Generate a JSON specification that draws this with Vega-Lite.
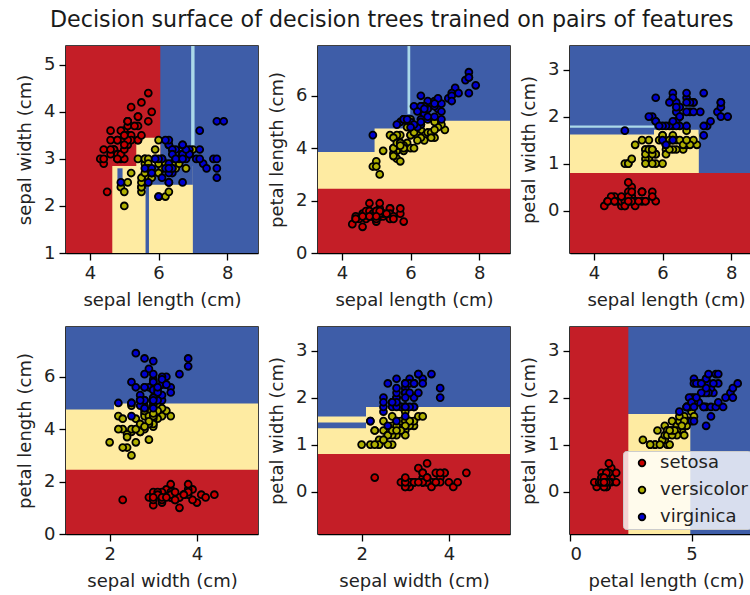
{
  "$schema": "https://vega.github.io/schema/vega-lite/v6.json",
  "padding": {"left": 15, "top": 9, "right": 0, "bottom": 0},
  "title": {"text": "Decision surface of decision trees trained on pairs of features", "anchor": "start", "frame": "group", "dx": -16, "offset": 14, "fontSize": 22.2, "fontWeight": "normal", "font": "DejaVu Sans", "color": "#1a1a1a"},
  "bounds": "flush",
  "columns": 3,
  "spacing": {"row": 74, "column": 60},
  "datasets": {
    "surf": [
      {"p":1,"x1":3.3,"x2":8.9,"y1":1,"y2":5.4,"c":"2"},
      {"p":1,"x1":3.3,"x2":6.05,"y1":1,"y2":5.4,"c":"0"},
      {"p":1,"x1":4.65,"x2":7.0,"y1":1,"y2":2.85,"c":"1"},
      {"p":1,"x1":5.35,"x2":6.05,"y1":2.8,"y2":3.45,"c":"1"},
      {"p":1,"x1":5.72,"x2":7.0,"y1":2.45,"y2":2.85,"c":"2"},
      {"p":1,"x1":5.62,"x2":5.72,"y1":1,"y2":2.85,"c":"2"},
      {"p":1,"x1":4.8,"x2":4.95,"y1":2.45,"y2":2.8,"c":"2"},
      {"p":1,"x1":6.95,"x2":7.05,"y1":3.25,"y2":5.4,"c":"m"},
      {"p":2,"x1":3.3,"x2":8.9,"y1":0,"y2":7.9,"c":"2"},
      {"p":2,"x1":3.3,"x2":8.9,"y1":0,"y2":3.85,"c":"1"},
      {"p":2,"x1":4.95,"x2":8.9,"y1":0,"y2":4.75,"c":"1"},
      {"p":2,"x1":5.95,"x2":8.9,"y1":0,"y2":5.05,"c":"1"},
      {"p":2,"x1":3.3,"x2":8.9,"y1":0,"y2":2.45,"c":"0"},
      {"p":2,"x1":5.91,"x2":5.99,"y1":5.3,"y2":7.9,"c":"m"},
      {"p":3,"x1":3.3,"x2":8.9,"y1":-0.9,"y2":3.5,"c":"2"},
      {"p":3,"x1":3.3,"x2":7.05,"y1":-0.9,"y2":1.62,"c":"1"},
      {"p":3,"x1":5.75,"x2":7.05,"y1":-0.9,"y2":1.72,"c":"1"},
      {"p":3,"x1":3.3,"x2":8.9,"y1":-0.9,"y2":0.8,"c":"0"},
      {"p":3,"x1":3.3,"x2":5.75,"y1":1.76,"y2":1.81,"c":"m"},
      {"p":4,"x1":1,"x2":5.4,"y1":0,"y2":7.9,"c":"2"},
      {"p":4,"x1":1,"x2":5.4,"y1":0,"y2":4.75,"c":"1"},
      {"p":4,"x1":2.1,"x2":5.4,"y1":0,"y2":4.98,"c":"1"},
      {"p":4,"x1":1,"x2":5.4,"y1":0,"y2":2.45,"c":"0"},
      {"p":5,"x1":1,"x2":5.4,"y1":-0.9,"y2":3.5,"c":"2"},
      {"p":5,"x1":1,"x2":5.4,"y1":-0.9,"y2":1.35,"c":"1"},
      {"p":5,"x1":2.1,"x2":5.4,"y1":-0.9,"y2":1.8,"c":"1"},
      {"p":5,"x1":1,"x2":5.4,"y1":-0.9,"y2":0.8,"c":"0"},
      {"p":5,"x1":1,"x2":2.1,"y1":1.47,"y2":1.6,"c":"1"},
      {"p":6,"x1":0,"x2":7.9,"y1":-0.9,"y2":3.5,"c":"2"},
      {"p":6,"x1":2.3,"x2":4.95,"y1":-0.9,"y2":1.65,"c":"1"},
      {"p":6,"x1":0,"x2":2.4,"y1":-0.9,"y2":3.5,"c":"0"}
    ],
    "iris": [
      {"sl":5.1,"sw":3.5,"pl":1.4,"pw":0.2,"species":"setosa"},
      {"sl":4.9,"sw":3.0,"pl":1.4,"pw":0.2,"species":"setosa"},
      {"sl":4.7,"sw":3.2,"pl":1.3,"pw":0.2,"species":"setosa"},
      {"sl":4.6,"sw":3.1,"pl":1.5,"pw":0.2,"species":"setosa"},
      {"sl":5.0,"sw":3.6,"pl":1.4,"pw":0.2,"species":"setosa"},
      {"sl":5.4,"sw":3.9,"pl":1.7,"pw":0.4,"species":"setosa"},
      {"sl":4.6,"sw":3.4,"pl":1.4,"pw":0.3,"species":"setosa"},
      {"sl":5.0,"sw":3.4,"pl":1.5,"pw":0.2,"species":"setosa"},
      {"sl":4.4,"sw":2.9,"pl":1.4,"pw":0.2,"species":"setosa"},
      {"sl":4.9,"sw":3.1,"pl":1.5,"pw":0.1,"species":"setosa"},
      {"sl":5.4,"sw":3.7,"pl":1.5,"pw":0.2,"species":"setosa"},
      {"sl":4.8,"sw":3.4,"pl":1.6,"pw":0.2,"species":"setosa"},
      {"sl":4.8,"sw":3.0,"pl":1.4,"pw":0.1,"species":"setosa"},
      {"sl":4.3,"sw":3.0,"pl":1.1,"pw":0.1,"species":"setosa"},
      {"sl":5.8,"sw":4.0,"pl":1.2,"pw":0.2,"species":"setosa"},
      {"sl":5.7,"sw":4.4,"pl":1.5,"pw":0.4,"species":"setosa"},
      {"sl":5.4,"sw":3.9,"pl":1.3,"pw":0.4,"species":"setosa"},
      {"sl":5.1,"sw":3.5,"pl":1.4,"pw":0.3,"species":"setosa"},
      {"sl":5.7,"sw":3.8,"pl":1.7,"pw":0.3,"species":"setosa"},
      {"sl":5.1,"sw":3.8,"pl":1.5,"pw":0.3,"species":"setosa"},
      {"sl":5.4,"sw":3.4,"pl":1.7,"pw":0.2,"species":"setosa"},
      {"sl":5.1,"sw":3.7,"pl":1.5,"pw":0.4,"species":"setosa"},
      {"sl":4.6,"sw":3.6,"pl":1.0,"pw":0.2,"species":"setosa"},
      {"sl":5.1,"sw":3.3,"pl":1.7,"pw":0.5,"species":"setosa"},
      {"sl":4.8,"sw":3.4,"pl":1.9,"pw":0.2,"species":"setosa"},
      {"sl":5.0,"sw":3.0,"pl":1.6,"pw":0.2,"species":"setosa"},
      {"sl":5.0,"sw":3.4,"pl":1.6,"pw":0.4,"species":"setosa"},
      {"sl":5.2,"sw":3.5,"pl":1.5,"pw":0.2,"species":"setosa"},
      {"sl":5.2,"sw":3.4,"pl":1.4,"pw":0.2,"species":"setosa"},
      {"sl":4.7,"sw":3.2,"pl":1.6,"pw":0.2,"species":"setosa"},
      {"sl":4.8,"sw":3.1,"pl":1.6,"pw":0.2,"species":"setosa"},
      {"sl":5.4,"sw":3.4,"pl":1.5,"pw":0.4,"species":"setosa"},
      {"sl":5.2,"sw":4.1,"pl":1.5,"pw":0.1,"species":"setosa"},
      {"sl":5.5,"sw":4.2,"pl":1.4,"pw":0.2,"species":"setosa"},
      {"sl":4.9,"sw":3.1,"pl":1.5,"pw":0.2,"species":"setosa"},
      {"sl":5.0,"sw":3.2,"pl":1.2,"pw":0.2,"species":"setosa"},
      {"sl":5.5,"sw":3.5,"pl":1.3,"pw":0.2,"species":"setosa"},
      {"sl":4.9,"sw":3.6,"pl":1.4,"pw":0.1,"species":"setosa"},
      {"sl":4.4,"sw":3.0,"pl":1.3,"pw":0.2,"species":"setosa"},
      {"sl":5.1,"sw":3.4,"pl":1.5,"pw":0.2,"species":"setosa"},
      {"sl":5.0,"sw":3.5,"pl":1.3,"pw":0.3,"species":"setosa"},
      {"sl":4.5,"sw":2.3,"pl":1.3,"pw":0.3,"species":"setosa"},
      {"sl":4.4,"sw":3.2,"pl":1.3,"pw":0.2,"species":"setosa"},
      {"sl":5.0,"sw":3.5,"pl":1.6,"pw":0.6,"species":"setosa"},
      {"sl":5.1,"sw":3.8,"pl":1.9,"pw":0.4,"species":"setosa"},
      {"sl":4.8,"sw":3.0,"pl":1.4,"pw":0.3,"species":"setosa"},
      {"sl":5.1,"sw":3.8,"pl":1.6,"pw":0.2,"species":"setosa"},
      {"sl":4.6,"sw":3.2,"pl":1.4,"pw":0.2,"species":"setosa"},
      {"sl":5.3,"sw":3.7,"pl":1.5,"pw":0.2,"species":"setosa"},
      {"sl":5.0,"sw":3.3,"pl":1.4,"pw":0.2,"species":"setosa"},
      {"sl":7.0,"sw":3.2,"pl":4.7,"pw":1.4,"species":"versicolor"},
      {"sl":6.4,"sw":3.2,"pl":4.5,"pw":1.5,"species":"versicolor"},
      {"sl":6.9,"sw":3.1,"pl":4.9,"pw":1.5,"species":"versicolor"},
      {"sl":5.5,"sw":2.3,"pl":4.0,"pw":1.3,"species":"versicolor"},
      {"sl":6.5,"sw":2.8,"pl":4.6,"pw":1.5,"species":"versicolor"},
      {"sl":5.7,"sw":2.8,"pl":4.5,"pw":1.3,"species":"versicolor"},
      {"sl":6.3,"sw":3.3,"pl":4.7,"pw":1.6,"species":"versicolor"},
      {"sl":4.9,"sw":2.4,"pl":3.3,"pw":1.0,"species":"versicolor"},
      {"sl":6.6,"sw":2.9,"pl":4.6,"pw":1.3,"species":"versicolor"},
      {"sl":5.2,"sw":2.7,"pl":3.9,"pw":1.4,"species":"versicolor"},
      {"sl":5.0,"sw":2.0,"pl":3.5,"pw":1.0,"species":"versicolor"},
      {"sl":5.9,"sw":3.0,"pl":4.2,"pw":1.5,"species":"versicolor"},
      {"sl":6.0,"sw":2.2,"pl":4.0,"pw":1.0,"species":"versicolor"},
      {"sl":6.1,"sw":2.9,"pl":4.7,"pw":1.4,"species":"versicolor"},
      {"sl":5.6,"sw":2.9,"pl":3.6,"pw":1.3,"species":"versicolor"},
      {"sl":6.7,"sw":3.1,"pl":4.4,"pw":1.4,"species":"versicolor"},
      {"sl":5.6,"sw":3.0,"pl":4.5,"pw":1.5,"species":"versicolor"},
      {"sl":5.8,"sw":2.7,"pl":4.1,"pw":1.0,"species":"versicolor"},
      {"sl":6.2,"sw":2.2,"pl":4.5,"pw":1.5,"species":"versicolor"},
      {"sl":5.6,"sw":2.5,"pl":3.9,"pw":1.1,"species":"versicolor"},
      {"sl":5.9,"sw":3.2,"pl":4.8,"pw":1.8,"species":"versicolor"},
      {"sl":6.1,"sw":2.8,"pl":4.0,"pw":1.3,"species":"versicolor"},
      {"sl":6.3,"sw":2.5,"pl":4.9,"pw":1.5,"species":"versicolor"},
      {"sl":6.1,"sw":2.8,"pl":4.7,"pw":1.2,"species":"versicolor"},
      {"sl":6.4,"sw":2.9,"pl":4.3,"pw":1.3,"species":"versicolor"},
      {"sl":6.6,"sw":3.0,"pl":4.4,"pw":1.4,"species":"versicolor"},
      {"sl":6.8,"sw":2.8,"pl":4.8,"pw":1.4,"species":"versicolor"},
      {"sl":6.7,"sw":3.0,"pl":5.0,"pw":1.7,"species":"versicolor"},
      {"sl":6.0,"sw":2.9,"pl":4.5,"pw":1.5,"species":"versicolor"},
      {"sl":5.7,"sw":2.6,"pl":3.5,"pw":1.0,"species":"versicolor"},
      {"sl":5.5,"sw":2.4,"pl":3.8,"pw":1.1,"species":"versicolor"},
      {"sl":5.5,"sw":2.4,"pl":3.7,"pw":1.0,"species":"versicolor"},
      {"sl":5.8,"sw":2.7,"pl":3.9,"pw":1.2,"species":"versicolor"},
      {"sl":6.0,"sw":2.7,"pl":5.1,"pw":1.6,"species":"versicolor"},
      {"sl":5.4,"sw":3.0,"pl":4.5,"pw":1.5,"species":"versicolor"},
      {"sl":6.0,"sw":3.4,"pl":4.5,"pw":1.6,"species":"versicolor"},
      {"sl":6.7,"sw":3.1,"pl":4.7,"pw":1.5,"species":"versicolor"},
      {"sl":6.3,"sw":2.3,"pl":4.4,"pw":1.3,"species":"versicolor"},
      {"sl":5.6,"sw":3.0,"pl":4.1,"pw":1.3,"species":"versicolor"},
      {"sl":5.5,"sw":2.5,"pl":4.0,"pw":1.3,"species":"versicolor"},
      {"sl":5.5,"sw":2.6,"pl":4.4,"pw":1.2,"species":"versicolor"},
      {"sl":6.1,"sw":3.0,"pl":4.6,"pw":1.4,"species":"versicolor"},
      {"sl":5.8,"sw":2.6,"pl":4.0,"pw":1.2,"species":"versicolor"},
      {"sl":5.0,"sw":2.3,"pl":3.3,"pw":1.0,"species":"versicolor"},
      {"sl":5.6,"sw":2.7,"pl":4.2,"pw":1.3,"species":"versicolor"},
      {"sl":5.7,"sw":3.0,"pl":4.2,"pw":1.2,"species":"versicolor"},
      {"sl":5.7,"sw":2.9,"pl":4.2,"pw":1.3,"species":"versicolor"},
      {"sl":6.2,"sw":2.9,"pl":4.3,"pw":1.3,"species":"versicolor"},
      {"sl":5.1,"sw":2.5,"pl":3.0,"pw":1.1,"species":"versicolor"},
      {"sl":5.7,"sw":2.8,"pl":4.1,"pw":1.3,"species":"versicolor"},
      {"sl":6.3,"sw":3.3,"pl":6.0,"pw":2.5,"species":"virginica"},
      {"sl":5.8,"sw":2.7,"pl":5.1,"pw":1.9,"species":"virginica"},
      {"sl":7.1,"sw":3.0,"pl":5.9,"pw":2.1,"species":"virginica"},
      {"sl":6.3,"sw":2.9,"pl":5.6,"pw":1.8,"species":"virginica"},
      {"sl":6.5,"sw":3.0,"pl":5.8,"pw":2.2,"species":"virginica"},
      {"sl":7.6,"sw":3.0,"pl":6.6,"pw":2.1,"species":"virginica"},
      {"sl":4.9,"sw":2.5,"pl":4.5,"pw":1.7,"species":"virginica"},
      {"sl":7.3,"sw":2.9,"pl":6.3,"pw":1.8,"species":"virginica"},
      {"sl":6.7,"sw":2.5,"pl":5.8,"pw":1.8,"species":"virginica"},
      {"sl":7.2,"sw":3.6,"pl":6.1,"pw":2.5,"species":"virginica"},
      {"sl":6.5,"sw":3.2,"pl":5.1,"pw":2.0,"species":"virginica"},
      {"sl":6.4,"sw":2.7,"pl":5.3,"pw":1.9,"species":"virginica"},
      {"sl":6.8,"sw":3.0,"pl":5.5,"pw":2.1,"species":"virginica"},
      {"sl":5.7,"sw":2.5,"pl":5.0,"pw":2.0,"species":"virginica"},
      {"sl":5.8,"sw":2.8,"pl":5.1,"pw":2.4,"species":"virginica"},
      {"sl":6.4,"sw":3.2,"pl":5.3,"pw":2.3,"species":"virginica"},
      {"sl":6.5,"sw":3.0,"pl":5.5,"pw":1.8,"species":"virginica"},
      {"sl":7.7,"sw":3.8,"pl":6.7,"pw":2.2,"species":"virginica"},
      {"sl":7.7,"sw":2.6,"pl":6.9,"pw":2.3,"species":"virginica"},
      {"sl":6.0,"sw":2.2,"pl":5.0,"pw":1.5,"species":"virginica"},
      {"sl":6.9,"sw":3.2,"pl":5.7,"pw":2.3,"species":"virginica"},
      {"sl":5.6,"sw":2.8,"pl":4.9,"pw":2.0,"species":"virginica"},
      {"sl":7.7,"sw":2.8,"pl":6.7,"pw":2.0,"species":"virginica"},
      {"sl":6.3,"sw":2.7,"pl":4.9,"pw":1.8,"species":"virginica"},
      {"sl":6.7,"sw":3.3,"pl":5.7,"pw":2.1,"species":"virginica"},
      {"sl":7.2,"sw":3.2,"pl":6.0,"pw":1.8,"species":"virginica"},
      {"sl":6.2,"sw":2.8,"pl":4.8,"pw":1.8,"species":"virginica"},
      {"sl":6.1,"sw":3.0,"pl":4.9,"pw":1.8,"species":"virginica"},
      {"sl":6.4,"sw":2.8,"pl":5.6,"pw":2.1,"species":"virginica"},
      {"sl":7.2,"sw":3.0,"pl":5.8,"pw":1.6,"species":"virginica"},
      {"sl":7.4,"sw":2.8,"pl":6.1,"pw":1.9,"species":"virginica"},
      {"sl":7.9,"sw":3.8,"pl":6.4,"pw":2.0,"species":"virginica"},
      {"sl":6.4,"sw":2.8,"pl":5.6,"pw":2.2,"species":"virginica"},
      {"sl":6.3,"sw":2.8,"pl":5.1,"pw":1.5,"species":"virginica"},
      {"sl":6.1,"sw":2.6,"pl":5.6,"pw":1.4,"species":"virginica"},
      {"sl":7.7,"sw":3.0,"pl":6.1,"pw":2.3,"species":"virginica"},
      {"sl":6.3,"sw":3.4,"pl":5.6,"pw":2.4,"species":"virginica"},
      {"sl":6.4,"sw":3.1,"pl":5.5,"pw":1.8,"species":"virginica"},
      {"sl":6.0,"sw":3.0,"pl":4.8,"pw":1.8,"species":"virginica"},
      {"sl":6.9,"sw":3.1,"pl":5.4,"pw":2.1,"species":"virginica"},
      {"sl":6.7,"sw":3.1,"pl":5.6,"pw":2.4,"species":"virginica"},
      {"sl":6.9,"sw":3.1,"pl":5.1,"pw":2.3,"species":"virginica"},
      {"sl":5.8,"sw":2.7,"pl":5.1,"pw":1.9,"species":"virginica"},
      {"sl":6.8,"sw":3.2,"pl":5.9,"pw":2.3,"species":"virginica"},
      {"sl":6.7,"sw":3.3,"pl":5.7,"pw":2.5,"species":"virginica"},
      {"sl":6.7,"sw":3.0,"pl":5.2,"pw":2.3,"species":"virginica"},
      {"sl":6.3,"sw":2.5,"pl":5.0,"pw":1.9,"species":"virginica"},
      {"sl":6.5,"sw":3.0,"pl":5.2,"pw":2.0,"species":"virginica"},
      {"sl":6.2,"sw":3.4,"pl":5.4,"pw":2.3,"species":"virginica"},
      {"sl":5.9,"sw":3.0,"pl":5.1,"pw":1.8,"species":"virginica"}
    ]
  },
  "concat": [
    {
      "width": 192, "height": 207,
      "layer": [
        {"data": {"name": "surf"}, "transform": [{"filter": "datum.p == 1"}], "mark": {"type": "rect"},
         "encoding": {
           "x": {"field": "x1", "type": "quantitative", "title": "sepal length (cm)", "scale": {"domain": [3.3, 8.9], "nice": false, "zero": false}, "axis": {"values": [4, 6, 8]}},
           "x2": {"field": "x2"},
           "y": {"field": "y1", "type": "quantitative", "title": "sepal width (cm)", "scale": {"domain": [1, 5.4], "nice": false, "zero": false}, "axis": {"values": [1, 2, 3, 4, 5]}},
           "y2": {"field": "y2"},
           "fill": {"field": "c", "type": "nominal", "scale": {"domain": ["0", "1", "2", "m"], "range": ["#c41e27", "#feeba2", "#3e5da8", "#abd9e9"]}, "legend": null}
         }},
        {"data": {"name": "iris"}, "mark": {"type": "point", "filled": true, "shape": "circle", "size": 48, "stroke": "black", "strokeWidth": 1.8, "opacity": 1},
         "encoding": {
           "x": {"field": "sl", "type": "quantitative", "title": "sepal length (cm)", "scale": {"domain": [3.3, 8.9], "nice": false, "zero": false}},
           "y": {"field": "sw", "type": "quantitative", "title": "sepal width (cm)", "scale": {"domain": [1, 5.4], "nice": false, "zero": false}},
           "color": {"field": "species", "type": "nominal", "scale": {"domain": ["setosa", "versicolor", "virginica"], "range": ["#c80000", "#b0b000", "#0000d0"]},
             "legend": {"title": null, "orient": "none", "legendX": 557, "legendY": 405, "fillColor": "rgba(255,255,255,0.8)", "strokeColor": "#cccccc", "cornerRadius": 3, "padding": 3, "rowPadding": 9, "labelFontSize": 18, "labelFont": "DejaVu Sans", "labelColor": "#222222", "symbolType": "circle", "symbolSize": 44, "symbolStrokeColor": "black", "symbolStrokeWidth": 1.8, "symbolOpacity": 1, "labelOffset": 9, "symbolOffset": 7}}
         }}
      ]
    },
    {
      "width": 192, "height": 207,
      "layer": [
        {"data": {"name": "surf"}, "transform": [{"filter": "datum.p == 2"}], "mark": {"type": "rect"},
         "encoding": {
           "x": {"field": "x1", "type": "quantitative", "title": "sepal length (cm)", "scale": {"domain": [3.3, 8.9], "nice": false, "zero": false}, "axis": {"values": [4, 6, 8]}},
           "x2": {"field": "x2"},
           "y": {"field": "y1", "type": "quantitative", "title": "petal length (cm)", "scale": {"domain": [0, 7.9], "nice": false, "zero": false}, "axis": {"values": [0, 2, 4, 6]}},
           "y2": {"field": "y2"},
           "fill": {"field": "c", "type": "nominal", "scale": {"domain": ["0", "1", "2", "m"], "range": ["#c41e27", "#feeba2", "#3e5da8", "#abd9e9"]}, "legend": null}
         }},
        {"data": {"name": "iris"}, "mark": {"type": "point", "filled": true, "shape": "circle", "size": 48, "stroke": "black", "strokeWidth": 1.8, "opacity": 1},
         "encoding": {
           "x": {"field": "sl", "type": "quantitative", "title": "sepal length (cm)", "scale": {"domain": [3.3, 8.9], "nice": false, "zero": false}},
           "y": {"field": "pl", "type": "quantitative", "title": "petal length (cm)", "scale": {"domain": [0, 7.9], "nice": false, "zero": false}},
           "color": {"field": "species", "type": "nominal"}
         }}
      ]
    },
    {
      "width": 192, "height": 207,
      "layer": [
        {"data": {"name": "surf"}, "transform": [{"filter": "datum.p == 3"}], "mark": {"type": "rect"},
         "encoding": {
           "x": {"field": "x1", "type": "quantitative", "title": "sepal length (cm)", "scale": {"domain": [3.3, 8.9], "nice": false, "zero": false}, "axis": {"values": [4, 6, 8]}},
           "x2": {"field": "x2"},
           "y": {"field": "y1", "type": "quantitative", "title": "petal width (cm)", "scale": {"domain": [-0.9, 3.5], "nice": false, "zero": false}, "axis": {"values": [0, 1, 2, 3]}},
           "y2": {"field": "y2"},
           "fill": {"field": "c", "type": "nominal", "scale": {"domain": ["0", "1", "2", "m"], "range": ["#c41e27", "#feeba2", "#3e5da8", "#abd9e9"]}, "legend": null}
         }},
        {"data": {"name": "iris"}, "mark": {"type": "point", "filled": true, "shape": "circle", "size": 48, "stroke": "black", "strokeWidth": 1.8, "opacity": 1},
         "encoding": {
           "x": {"field": "sl", "type": "quantitative", "title": "sepal length (cm)", "scale": {"domain": [3.3, 8.9], "nice": false, "zero": false}},
           "y": {"field": "pw", "type": "quantitative", "title": "petal width (cm)", "scale": {"domain": [-0.9, 3.5], "nice": false, "zero": false}},
           "color": {"field": "species", "type": "nominal"}
         }}
      ]
    },
    {
      "width": 192, "height": 207,
      "layer": [
        {"data": {"name": "surf"}, "transform": [{"filter": "datum.p == 4"}], "mark": {"type": "rect"},
         "encoding": {
           "x": {"field": "x1", "type": "quantitative", "title": "sepal width (cm)", "scale": {"domain": [1, 5.4], "nice": false, "zero": false}, "axis": {"values": [2, 4]}},
           "x2": {"field": "x2"},
           "y": {"field": "y1", "type": "quantitative", "title": "petal length (cm)", "scale": {"domain": [0, 7.9], "nice": false, "zero": false}, "axis": {"values": [0, 2, 4, 6]}},
           "y2": {"field": "y2"},
           "fill": {"field": "c", "type": "nominal", "scale": {"domain": ["0", "1", "2", "m"], "range": ["#c41e27", "#feeba2", "#3e5da8", "#abd9e9"]}, "legend": null}
         }},
        {"data": {"name": "iris"}, "mark": {"type": "point", "filled": true, "shape": "circle", "size": 48, "stroke": "black", "strokeWidth": 1.8, "opacity": 1},
         "encoding": {
           "x": {"field": "sw", "type": "quantitative", "title": "sepal width (cm)", "scale": {"domain": [1, 5.4], "nice": false, "zero": false}},
           "y": {"field": "pl", "type": "quantitative", "title": "petal length (cm)", "scale": {"domain": [0, 7.9], "nice": false, "zero": false}},
           "color": {"field": "species", "type": "nominal"}
         }}
      ]
    },
    {
      "width": 192, "height": 207,
      "layer": [
        {"data": {"name": "surf"}, "transform": [{"filter": "datum.p == 5"}], "mark": {"type": "rect"},
         "encoding": {
           "x": {"field": "x1", "type": "quantitative", "title": "sepal width (cm)", "scale": {"domain": [1, 5.4], "nice": false, "zero": false}, "axis": {"values": [2, 4]}},
           "x2": {"field": "x2"},
           "y": {"field": "y1", "type": "quantitative", "title": "petal width (cm)", "scale": {"domain": [-0.9, 3.5], "nice": false, "zero": false}, "axis": {"values": [0, 1, 2, 3]}},
           "y2": {"field": "y2"},
           "fill": {"field": "c", "type": "nominal", "scale": {"domain": ["0", "1", "2", "m"], "range": ["#c41e27", "#feeba2", "#3e5da8", "#abd9e9"]}, "legend": null}
         }},
        {"data": {"name": "iris"}, "mark": {"type": "point", "filled": true, "shape": "circle", "size": 48, "stroke": "black", "strokeWidth": 1.8, "opacity": 1},
         "encoding": {
           "x": {"field": "sw", "type": "quantitative", "title": "sepal width (cm)", "scale": {"domain": [1, 5.4], "nice": false, "zero": false}},
           "y": {"field": "pw", "type": "quantitative", "title": "petal width (cm)", "scale": {"domain": [-0.9, 3.5], "nice": false, "zero": false}},
           "color": {"field": "species", "type": "nominal"}
         }}
      ]
    },
    {
      "width": 192, "height": 207,
      "layer": [
        {"data": {"name": "surf"}, "transform": [{"filter": "datum.p == 6"}], "mark": {"type": "rect"},
         "encoding": {
           "x": {"field": "x1", "type": "quantitative", "title": "petal length (cm)", "scale": {"domain": [0, 7.9], "nice": false, "zero": false}, "axis": {"values": [0, 5]}},
           "x2": {"field": "x2"},
           "y": {"field": "y1", "type": "quantitative", "title": "petal width (cm)", "scale": {"domain": [-0.9, 3.5], "nice": false, "zero": false}, "axis": {"values": [0, 1, 2, 3]}},
           "y2": {"field": "y2"},
           "fill": {"field": "c", "type": "nominal", "scale": {"domain": ["0", "1", "2", "m"], "range": ["#c41e27", "#feeba2", "#3e5da8", "#abd9e9"]}, "legend": null}
         }},
        {"data": {"name": "iris"}, "mark": {"type": "point", "filled": true, "shape": "circle", "size": 48, "stroke": "black", "strokeWidth": 1.8, "opacity": 1},
         "encoding": {
           "x": {"field": "pl", "type": "quantitative", "title": "petal length (cm)", "scale": {"domain": [0, 7.9], "nice": false, "zero": false}},
           "y": {"field": "pw", "type": "quantitative", "title": "petal width (cm)", "scale": {"domain": [-0.9, 3.5], "nice": false, "zero": false}},
           "color": {"field": "species", "type": "nominal"}
         }}
      ]
    }
  ],
  "config": {
    "font": "DejaVu Sans",
    "view": {"stroke": "black", "strokeWidth": 1.5},
    "axis": {"grid": false, "domain": true, "domainColor": "black", "domainWidth": 1.5, "tickColor": "black", "tickWidth": 1.3, "tickSize": 7, "labelFont": "DejaVu Sans", "labelFontSize": 18, "labelColor": "#222222", "labelPadding": 4, "titleFont": "DejaVu Sans", "titleFontSize": 18, "titleFontWeight": "normal", "titleColor": "#222222", "titlePadding": 9, "format": "d"}
  }
}
